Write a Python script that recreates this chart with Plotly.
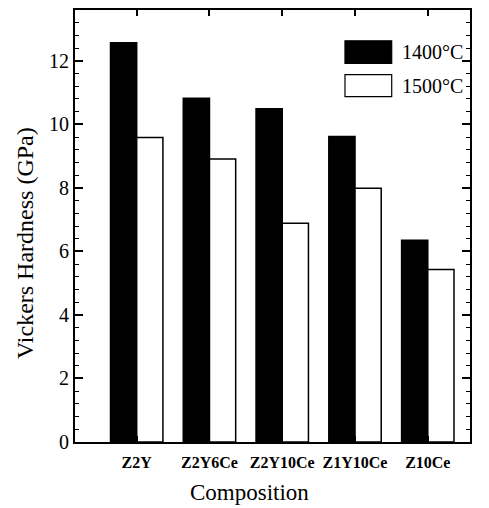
import plotly.graph_objects as go

categories = ["Z2Y", "Z2Y6Ce", "Z2Y10Ce", "Z1Y10Ce", "Z10Ce"]
hv_1400 = [12.57, 10.82, 10.49, 9.62, 6.35]
hv_1500 = [9.59, 8.91, 6.89, 7.99, 5.43]
series_names = ["1400\u00b0C", "1500\u00b0C"]

FONT = "'Liberation Serif', 'Times New Roman', 'DejaVu Serif', serif"
x_idx = list(range(len(categories)))

fig = go.Figure()
fig.add_trace(go.Bar(x=x_idx, y=hv_1400, name=series_names[0],
                     marker=dict(color="black", line=dict(color="black", width=1.5))))
fig.add_trace(go.Bar(x=x_idx, y=hv_1500, name=series_names[1],
                     marker=dict(color="white", line=dict(color="black", width=1.5))))

# Custom legend (large boxes like the reference)
leg = [("black", series_names[0], 0.9286, 0.8763), ("white", series_names[1], 0.8502, 0.7995)]
for color, label, y1, y0 in leg:
    fig.add_shape(type="rect", xref="paper", yref="paper", x0=0.6835, x1=0.8018, y0=y0, y1=y1,
                  fillcolor=color, line=dict(color="black", width=1.2))
    fig.add_annotation(xref="paper", yref="paper", x=0.8228, y=(y0 + y1) / 2, text=label,
                       showarrow=False, xanchor="left", yanchor="middle",
                       font=dict(family=FONT, size=20, color="black"))

# Axis titles (placed as in the reference, slightly off-centre)
fig.add_annotation(xref="paper", yref="paper", x=-0.126, y=0.461, text="Vickers Hardness (GPa)",
                   textangle=-90, showarrow=False, xanchor="center", yanchor="middle",
                   font=dict(family=FONT, size=24, color="black"))
fig.add_annotation(xref="paper", yref="paper", x=0.443, y=-0.117, text="Composition",
                   showarrow=False, xanchor="center", yanchor="middle",
                   font=dict(family=FONT, size=23, color="black"))

fig.update_layout(
    width=489, height=508,
    margin=dict(l=75, r=19, t=8, b=66),
    paper_bgcolor="white", plot_bgcolor="white",
    barmode="group", bargap=0.28, bargroupgap=0,
    showlegend=False,
    font=dict(family=FONT, color="black"),
)
fig.update_xaxes(
    range=[-0.848, 4.58], tickmode="array", tickvals=x_idx, ticktext=categories,
    tickfont=dict(family=FONT, size=16, color="black", weight="bold"),
    showline=True, linecolor="black", linewidth=2, mirror="ticks",
    ticks="inside", ticklen=6, tickwidth=1.5, tickcolor="black", showgrid=False, zeroline=False,
    ticklabelstandoff=5,
)
fig.update_yaxes(
    range=[0, 13.6], tickmode="linear", tick0=0, dtick=2,
    tickfont=dict(family=FONT, size=20, color="black"),
    showline=True, linecolor="black", linewidth=2, mirror="ticks",
    ticks="inside", ticklen=8, tickwidth=1.5, tickcolor="black", showgrid=False, zeroline=False,
    minor=dict(dtick=0.4, ticks="inside", ticklen=4, tickwidth=1.2, tickcolor="black", showgrid=False),
)

fig.write_html("out.html")
